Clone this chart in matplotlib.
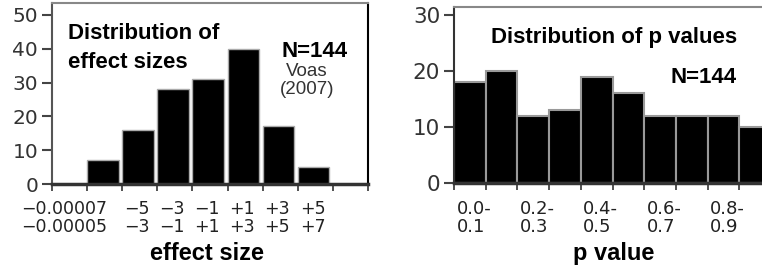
import numpy as np
import matplotlib
matplotlib.use("Agg")
import matplotlib.pyplot as plt
from matplotlib.transforms import blended_transform_factory

plt.rcParams['font.family'] = ['Liberation Sans', 'DejaVu Sans']

# ---- data ----
effect_bins_top = ["\u22120.00007", "\u22125", "\u22123", "\u22121", "+1", "+3", "+5"]
effect_bins_bot = ["\u22120.00005", "\u22123", "\u22121", "+1", "+3", "+5", "+7"]
effect_counts = [0, 7, 16, 28, 31, 40, 17, 5, 0]

p_edges = [0.0, 0.1, 0.2, 0.3, 0.4, 0.5, 0.6, 0.7, 0.8, 0.9]
p_counts = [18, 20, 12, 13, 19, 16, 12, 12, 12, 10]
p_label_top = ["0.0-", "0.2-", "0.4-", "0.6-", "0.8-"]
p_label_bot = ["0.1", "0.3", "0.5", "0.7", "0.9"]
p_label_pos = [0.0, 0.2, 0.4, 0.6, 0.8]

left_yticks = [0, 10, 20, 30, 40, 50]
right_yticks = [0, 10, 20, 30]

TICKFONT = 'DejaVu Sans'
W, H = 762, 270
fig = plt.figure(figsize=(W / 100, H / 100), dpi=100)

def px_axes(x0, x1, ytop, ybot):
    return fig.add_axes([x0 / W, 1 - ybot / H, (x1 - x0) / W, (ybot - ytop) / H])

# ---------------- left chart ----------------
ax1 = px_axes(52, 368, 3, 184)
nb = len(effect_counts)
ax1.bar(np.arange(nb), effect_counts, width=0.9, align='edge', color='black',
        edgecolor='#aaaaaa', linewidth=1)
ax1.set_xlim(0, nb)
ax1.set_ylim(0, 53.5)
ax1.set_yticks(left_yticks)
ax1.set_yticklabels([str(v) for v in left_yticks], fontsize=14.5, color='#333333',
                    family=TICKFONT)
ax1.set_xticks(np.arange(nb + 1))
ax1.set_xticklabels([])
ax1.tick_params(axis='y', length=7, width=1.5, pad=3, color='#444444')
ax1.tick_params(axis='x', length=5, width=1.2, color='#333333')
ax1.spines['left'].set_color('#555555'); ax1.spines['left'].set_linewidth(1.5)
ax1.spines['bottom'].set_linewidth(2.5); ax1.spines['bottom'].set_color('#333333')
ax1.spines['top'].set_color('#888888'); ax1.spines['top'].set_linewidth(1.5)
ax1.spines['right'].set_color('black'); ax1.spines['right'].set_linewidth(1.5)

tr1 = blended_transform_factory(ax1.transData, fig.transFigure)
for i, (t, b) in enumerate(zip(effect_bins_top, effect_bins_bot)):
    if i == 0:
        x, ha = 1 + 0.57, 'right'
    else:
        x, ha = 1 + i + 0.42, 'center'
    ax1.text(x, 1 - 214 / H, t, transform=tr1, ha=ha, va='baseline', fontsize=12.5,
             color='#222222', family=TICKFONT)
    ax1.text(x, 1 - 232 / H, b, transform=tr1, ha=ha, va='baseline', fontsize=12.5,
             color='#222222', family=TICKFONT)

ax1.text(0.05, 0.80, "Distribution of", transform=ax1.transAxes, fontsize=16,
         fontweight='bold', ha='left', va='baseline')
ax1.text(0.05, 0.64, "effect sizes", transform=ax1.transAxes, fontsize=16,
         fontweight='bold', ha='left', va='baseline')
ax1.text(0.934, 0.702, "N=144", transform=ax1.transAxes, fontsize=16,
         fontweight='bold', ha='right', va='baseline')
ax1.text(0.807, 0.597, "Voas", transform=ax1.transAxes, fontsize=13.5,
         ha='center', va='baseline', color='#333333')
ax1.text(0.807, 0.497, "(2007)", transform=ax1.transAxes, fontsize=13.5,
         ha='center', va='baseline', color='#333333')
fig.text(207 / W, 1 - 260 / H, "effect size", fontsize=17, fontweight='bold',
         ha='center', va='baseline')

# ---------------- right chart ----------------
ax2 = px_axes(454, 771, 7, 183)
ax2.bar(p_edges, p_counts, width=0.1, align='edge', color='black',
        edgecolor='#999999', linewidth=1.5)
ax2.set_xlim(0, 1.0)
ax2.set_ylim(0, 31.4)
ax2.set_yticks(right_yticks)
ax2.set_yticklabels([str(v) for v in right_yticks], fontsize=15.5, color='#333333',
                    family=TICKFONT)
ax2.set_xticks(p_edges + [1.0])
ax2.set_xticklabels([])
ax2.tick_params(axis='y', length=7, width=1.5, pad=3, color='#444444')
ax2.tick_params(axis='x', length=5, width=1.2, color='#333333')
ax2.spines['left'].set_color('#333333'); ax2.spines['left'].set_linewidth(1.5)
ax2.spines['bottom'].set_linewidth(2.5); ax2.spines['bottom'].set_color('#333333')
ax2.spines['top'].set_color('#888888'); ax2.spines['top'].set_linewidth(1.5)
ax2.spines['right'].set_visible(False)

tr2 = blended_transform_factory(ax2.transData, fig.transFigure)
for x, t, b in zip(p_label_pos, p_label_top, p_label_bot):
    ax2.text(x + 0.008, 1 - 214 / H, t, transform=tr2, ha='left', va='baseline',
             fontsize=13, color='#222222', family=TICKFONT)
    ax2.text(x + 0.008, 1 - 232 / H, b, transform=tr2, ha='left', va='baseline',
             fontsize=13, color='#222222', family=TICKFONT)

ax2.text(0.117, 0.797, "Distribution of p values", transform=ax2.transAxes, fontsize=16,
         fontweight='bold', ha='left', va='baseline')
ax2.text(0.89, 0.568, "N=144", transform=ax2.transAxes, fontsize=16,
         fontweight='bold', ha='right', va='baseline')
fig.text(614 / W, 1 - 260 / H, "p value", fontsize=17, fontweight='bold',
         ha='center', va='baseline')

fig.savefig("out.png", dpi=100)
